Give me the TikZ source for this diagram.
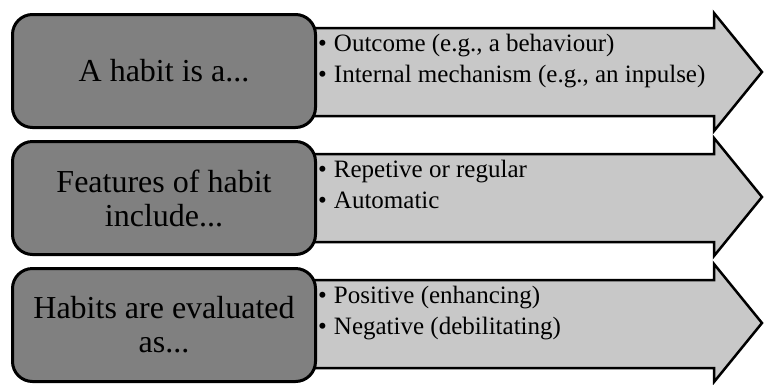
\documentclass[tikz,border=0pt]{standalone}
\usepackage{fontspec}
\setmainfont{Liberation Serif}
\usetikzlibrary{positioning}
\definecolor{boxgrey}{RGB}{128,128,128}
\definecolor{arrowgrey}{RGB}{200,200,200}
\tikzset{
  headbox/.style={draw, line width=3pt, fill=boxgrey, rounded corners=20pt,
    minimum width=303pt, minimum height=113pt, align=center, inner sep=0pt,
    font=\fontsize{32}{34}\selectfont},
  bigarrow/.style={draw, line width=2.5pt, fill=arrowgrey},
  bullet/.style={anchor=base west, inner sep=0pt, font=\fontsize{25}{31}\selectfont}
}
\newcommand{\pt}{\textbullet\hspace{7pt}}

\begin{document}
\begin{tikzpicture}[x=1pt,y=-1pt]
  \useasboundingbox (0,0) rectangle (766,384);
  % arrows behind the boxes
  \draw[bigarrow] (300,28) -- (714,28) -- (714,13) -- (762,72) -- (714,131) -- (714,116) -- (300,116) -- cycle;
  \draw[bigarrow] (300,154) -- (714,154) -- (714,138) -- (762,197) -- (714,256) -- (714,242) -- (300,242) -- cycle;
  \draw[bigarrow] (300,280) -- (714,280) -- (714,264) -- (762,323) -- (714,382) -- (714,368) -- (300,368) -- cycle;
  % left boxes
  \node[headbox] (what) at (164,71) {A habit is a...};
  \node[headbox] (features) at (164,198) {Features of habit\\include...};
  \node[headbox] (evaluated) at (164,325) {Habits are evaluated\\as...};
  % bullet lists
  \node[bullet] (what1) at (318,51) {\pt Outcome (e.g., a behaviour)};
  \node[bullet] (what2) at (318,82) {\pt Internal mechanism (e.g., an inpulse)};
  \node[bullet] (features1) at (318,177) {\pt Repetive or regular};
  \node[bullet] (features2) at (318,208) {\pt Automatic};
  \node[bullet] (evaluated1) at (318,303) {\pt Positive (enhancing)};
  \node[bullet] (evaluated2) at (318,334) {\pt Negative (debilitating)};
\end{tikzpicture}
\end{document}
